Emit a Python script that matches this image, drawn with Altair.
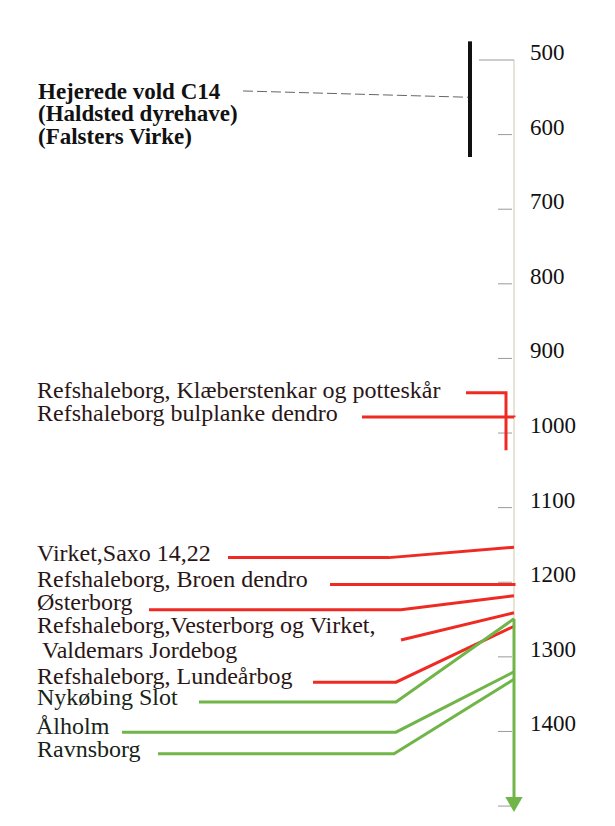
import altair as alt
import pandas as pd

# ---------------- data ----------------
tick_years = [500, 600, 700, 800, 900, 1000, 1100, 1200, 1300, 1400, 1500]
tick_labels = ["500", "600", "700", "800", "900", "1000", "1100", "1200", "1300", "1400", ""]

# black C14 dating (range) and its label
hej_text = ["Hejerede vold C14", "(Haldsted dyrehave)", "(Falsters Virke)"]
hej_range = [475, 630]
hej_point = 550

# red group (years where leader line meets the time axis)
red_text = ["Refshaleborg, Klæberstenkar og potteskår",
            "Refshaleborg bulplanke dendro",
            "Virket,Saxo 14,22",
            "Refshaleborg, Broen dendro",
            "Østerborg",
            "Refshaleborg,Vesterborg og Virket,",
            "Refshaleborg, Lundeårbog"]
red_year = [946, 979, 1153, 1201, 1218, 1241, 1259]
red_range_end = 1023          # Klæberstenkar range 946-1023
red_extra_text = "Valdemars Jordebog"

# green group
green_text = ["Nykøbing Slot", "Ålholm", "Ravnsborg"]
green_year = [1249, 1320, 1330]
arrow_end = 1498

# ---------------- layout (label rows in axis units, x in px) ----------------
hej_rows = [543, 572.5, 603]
hej_lead = [(243, 541.5), (470, 549.5)]
red_rows = [943, 974.5, 1162, 1197, 1228, 1259, 1327]
red_line_rows = [946, 978.5, 1167, 1203, 1237, 1277.5, 1334]
red_x0 = [466, 362, 228, 330, 149, 401, 313]
red_xb = [506, 514, 389, 514, 401, 401, 396]
red_extra_row = 1292
green_rows = [1355, 1394, 1425]
green_line_rows = [1360.5, 1401, 1430]
green_x0 = [199, 122, 158]
green_xb = [396, 396, 394]
AX = 514

RED = "#ee2a22"
GREEN = "#70b548"
SERIF = "Liberation Serif"
LAB_SIZE = 24

xs = alt.Scale(domain=[8, 607], nice=False, zero=False)
ys = alt.Scale(domain=[430.3, 1516], nice=False, zero=False, reverse=True)
X = lambda f="x": alt.X(f"{f}:Q", scale=xs, axis=None)
Y = lambda f="y": alt.Y(f"{f}:Q", scale=ys, axis=None)

# axis line and ticks
axis_df = pd.DataFrame({"x": [AX], "y": [tick_years[0]], "y2": [tick_years[-1]]})
axis_line = alt.Chart(axis_df).mark_rule(color="#cfcbb0", strokeWidth=1).encode(
    x=X(), y=Y(), y2="y2:Q")

tick_df = pd.DataFrame({"y": tick_years, "lab": tick_labels,
                        "x": [479] + [498] * (len(tick_years) - 1),
                        "x2": [AX] + [512] * (len(tick_years) - 1),
                        "lx": [530] * len(tick_years)})
ticks = alt.Chart(tick_df).mark_rule(color="#9a9a9a", strokeWidth=1).encode(
    x=X(), x2="x2:Q", y=Y())
tick_text = alt.Chart(tick_df).mark_text(
    align="left", baseline="middle", font=SERIF, fontSize=23, dy=-7, color="#111"
).encode(x=X("lx"), y=Y(), text="lab:N")

# black bar + dashed leader + label
bar_df = pd.DataFrame({"x": [470], "y": [hej_range[0]], "y2": [hej_range[1]]})
bar = alt.Chart(bar_df).mark_rule(color="#111", strokeWidth=4).encode(x=X(), y=Y(), y2="y2:Q")
lead_df = pd.DataFrame({"x": [hej_lead[0][0], hej_lead[1][0]],
                        "y": [hej_lead[0][1], hej_point], "o": [0, 1]})
lead = alt.Chart(lead_df).mark_line(color="#666", strokeWidth=1, strokeDash=[10, 4]).encode(
    x=X(), y=Y(), order="o:Q")
hej_df = pd.DataFrame({"t": hej_text, "y": hej_rows, "x": [38] * 3})
hej = alt.Chart(hej_df).mark_text(align="left", baseline="middle", font=SERIF,
                                  fontSize=23, fontWeight="bold", color="#111").encode(
    x=X(), y=Y(), text="t:N")

# leader lines
rows = []
for i, (x0, xb, ly, yr) in enumerate(zip(red_x0, red_xb, red_line_rows, red_year)):
    if i == 0:
        pts = [(x0, yr), (xb, yr), (xb, red_range_end)]
    elif x0 == xb:
        pts = [(x0, ly), (AX, yr)]
    else:
        pts = [(x0, ly), (xb, ly), (AX, yr)]
    for k, (px, py) in enumerate(pts):
        rows.append({"id": f"r{i}", "x": px, "y": py, "o": k, "c": "red"})
for i, (x0, xb, ly, yr) in enumerate(zip(green_x0, green_xb, green_line_rows, green_year)):
    for k, (px, py) in enumerate([(x0, ly), (xb, ly), (AX, yr)]):
        rows.append({"id": f"g{i}", "x": px, "y": py, "o": k, "c": "green"})
lines_df = pd.DataFrame(rows)
leaders = alt.Chart(lines_df).mark_line(strokeWidth=3).encode(
    x=X(), y=Y(), detail="id:N", order="o:Q",
    color=alt.Color("c:N", scale=alt.Scale(domain=["red", "green"], range=[RED, GREEN]), legend=None))

# green arrow
arr_df = pd.DataFrame({"x": [AX], "y": [green_year[0]], "y2": [arrow_end - 4]})
arrow = alt.Chart(arr_df).mark_rule(color=GREEN, strokeWidth=3).encode(x=X(), y=Y(), y2="y2:Q")
head_df = pd.DataFrame({"x": [AX], "y": [arrow_end]})
head = alt.Chart(head_df).mark_point(shape="triangle-down", filled=True, size=300,
                                     color=GREEN, opacity=1).encode(x=X(), y=Y())

# labels
red_lab_df = pd.DataFrame({"t": red_text + [red_extra_text],
                           "y": red_rows + [red_extra_row],
                           "x": [37] * len(red_text) + [42]})
red_labels = alt.Chart(red_lab_df).mark_text(align="left", baseline="middle", font=SERIF,
                                             fontSize=LAB_SIZE, color="#2a1616").encode(
    x=X(), y=Y(), text="t:N")
green_lab_df = pd.DataFrame({"t": green_text, "y": green_rows, "x": [37, 36, 37]})
green_labels = alt.Chart(green_lab_df).mark_text(align="left", baseline="middle", font=SERIF,
                                                 fontSize=LAB_SIZE, color="#172417").encode(
    x=X(), y=Y(), text="t:N")

chart = alt.layer(axis_line, ticks, tick_text, lead, bar, hej, leaders, arrow, head,
                  red_labels, green_labels).properties(
    width=599, height=810, padding=0, autosize="none", background="white"
).configure_view(stroke=None)

chart.save("out.html", embed_options={"renderer": "svg", "actions": False})
